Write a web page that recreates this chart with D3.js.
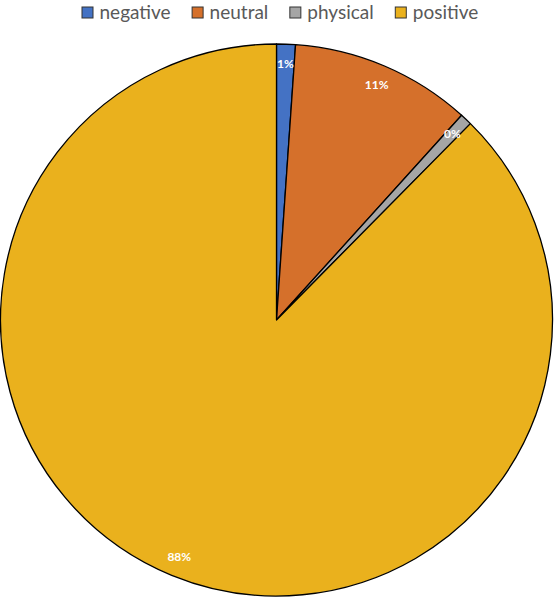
<!DOCTYPE html>
<html>
<head>
<meta charset="utf-8">
<script src="https://cdn.jsdelivr.net/npm/d3@7"></script>
<style>
  body { margin: 0; background: #fff; }
</style>
</head>
<body>
<div id="chart"></div>
<script>
var categories = ["negative", "neutral", "physical", "positive"];
var shares = [1.1, 10.6, 0.7, 87.6];
var labels = ["1%", "11%", "0%", "88%"];
var colors = ["#4472C4", "#D5702B", "#A5A5A5", "#EAB11D"];

var width = 555;
var height = 598;
var cx = 276.5, cy = 320, radius = 276;

var svg = d3.select('#chart').append('svg')
    .attr('width', width)
    .attr('height', height);

var data = categories.map(function (c, i) {
    return { cat: c, value: shares[i], label: labels[i], color: colors[i] };
});

var pie = d3.pie().sort(null).value(function (d) { return d.value; });
var arc = d3.arc().innerRadius(0).outerRadius(radius);
var labelArc = d3.arc().innerRadius(256).outerRadius(256);

var g = svg.append('g').attr('transform', "translate(" + cx + "," + cy + ")");

g.selectAll('path')
    .data(pie(data))
    .enter().append('path')
    .attr('d', arc)
    .attr('fill', function (d) { return d.data.color; })
    .attr('stroke', '#000')
    .attr('stroke-width', 1.3)
    .attr('stroke-linejoin', 'round');

g.selectAll('text.lbl')
    .data(pie(data))
    .enter().append('text')
    .attr('class', 'lbl')
    .attr('transform', function (d) { return "translate(" + labelArc.centroid(d) + ")"; })
    .attr('text-anchor', 'middle')
    .attr('dy', '0.35em')
    .style('font-family', 'Lato, sans-serif')
    .style('font-size', '12px')
    .style('font-weight', 700)
    .attr('fill', '#fff')
    .text(function (d) { return d.data.label; });

// legend along the top
var legend = svg.append('g');
var x = 82;
categories.forEach(function (c, i) {
    legend.append('rect')
        .attr('x', x)
        .attr('y', 7)
        .attr('width', 11)
        .attr('height', 11)
        .attr('fill', colors[i])
        .attr('stroke', '#333')
        .attr('stroke-width', 1);
    var t = legend.append('text')
        .attr('x', x + 17.5)
        .attr('y', 19)
        .style('font-family', 'Lato, sans-serif')
        .style('font-size', '19px')
        .attr('fill', '#595959')
        .text(c);
    x = x + 17.5 + t.node().getComputedTextLength() + 21.5;
});
</script>
</body>
</html>
